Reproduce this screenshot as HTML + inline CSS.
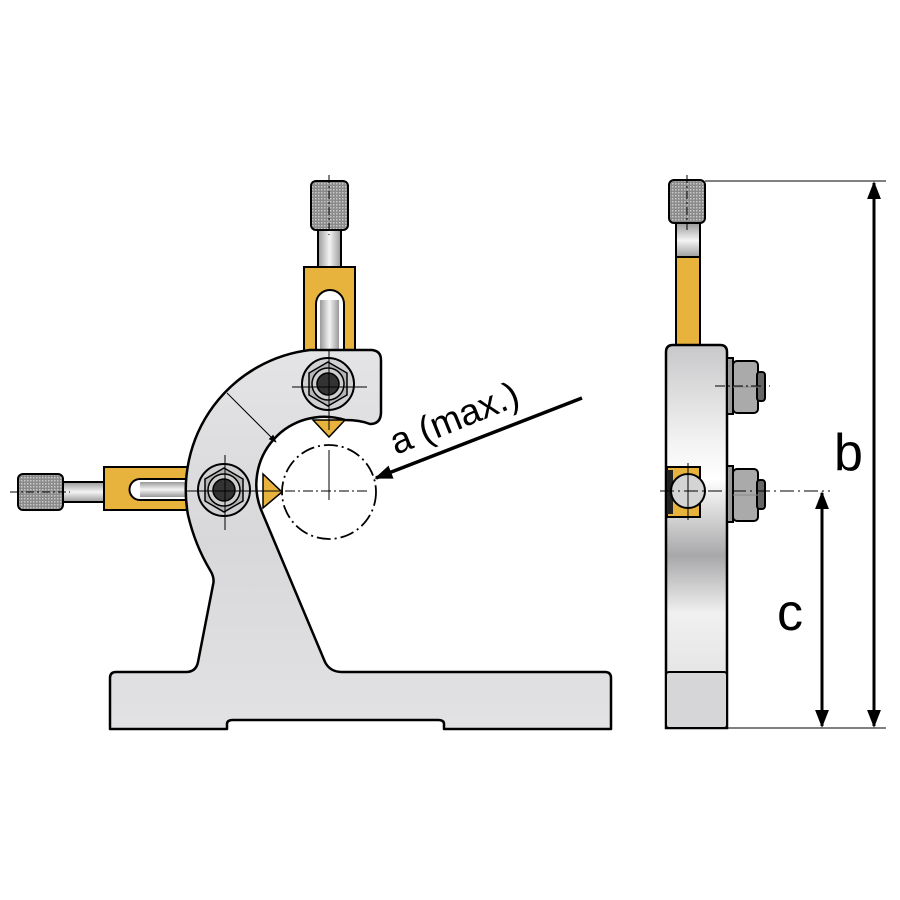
<!DOCTYPE html>
<html><head><meta charset="utf-8"><style>
html,body{margin:0;padding:0;background:#fff;}
svg{display:block;}
text{font-family:"Liberation Sans","DejaVu Sans",sans-serif;}
</style></head><body>
<svg width="900" height="900" viewBox="0 0 900 900" xmlns="http://www.w3.org/2000/svg">
<defs>
<linearGradient id="metal" x1="0" y1="0" x2="0" y2="1">
<stop offset="0" stop-color="#e4e4e6"/><stop offset="0.5" stop-color="#d8d8da"/><stop offset="1" stop-color="#e2e2e4"/></linearGradient>
<linearGradient id="side" x1="0" y1="0" x2="0" y2="1">
<stop offset="0" stop-color="#c8c8ca"/><stop offset="0.25" stop-color="#f2f2f2"/><stop offset="0.35" stop-color="#ffffff"/><stop offset="0.55" stop-color="#a8a8aa"/><stop offset="0.7" stop-color="#f0f0f0"/><stop offset="1" stop-color="#dcdcdc"/></linearGradient>
<linearGradient id="rodv" x1="0" y1="0" x2="1" y2="0">
<stop offset="0" stop-color="#999"/><stop offset="0.5" stop-color="#f4f4f4"/><stop offset="1" stop-color="#999"/></linearGradient>
<linearGradient id="rodh" x1="0" y1="0" x2="0" y2="1">
<stop offset="0" stop-color="#999"/><stop offset="0.5" stop-color="#f4f4f4"/><stop offset="1" stop-color="#999"/></linearGradient>
<pattern id="knurl" width="3" height="3" patternUnits="userSpaceOnUse">
<rect width="3" height="3" fill="#8a8a8a"/><rect width="1.5" height="1.5" fill="#c8c8c8"/></pattern>
<marker id="ah" viewBox="0 0 10 10" refX="9" refY="5" markerWidth="8" markerHeight="8" orient="auto-start-reverse" markerUnits="userSpaceOnUse">
<path d="M0,1 L10,5 L0,9 Z" fill="#000"/></marker>
<marker id="ah2" viewBox="0 0 10 10" refX="9" refY="5" markerWidth="18" markerHeight="14" orient="auto-start-reverse" markerUnits="userSpaceOnUse" preserveAspectRatio="none">
<path d="M0,0 L10,5 L0,10 Z" fill="#000"/></marker>
</defs>

<!-- left slider -->
<rect x="18" y="474" width="45" height="36" rx="5" fill="url(#knurl)" stroke="#000" stroke-width="2"/>
<rect x="63" y="482" width="42" height="20" fill="url(#rodh)" stroke="#000" stroke-width="2"/>
<rect x="104" y="467" width="86" height="43" fill="#e8b33c" stroke="#000" stroke-width="2"/>
<path d="M190,479 L140,479 A10.5,10.5 0 0 0 140,500 L190,500 Z" fill="#fff" stroke="#000" stroke-width="2"/>
<rect x="140" y="482" width="50" height="15" fill="url(#rodh)"/>

<!-- top slider -->
<rect x="311" y="181" width="37" height="49" rx="5" fill="url(#knurl)" stroke="#000" stroke-width="2"/>
<rect x="318" y="230" width="23" height="38" fill="url(#rodv)" stroke="#000" stroke-width="2"/>
<rect x="304" y="267" width="51" height="88" fill="#e8b33c" stroke="#000" stroke-width="2"/>
<path d="M316,355 L316,304 A14,14 0 0 1 344,304 L344,355 Z" fill="#fff" stroke="#000" stroke-width="2"/>
<rect x="320" y="300" width="19" height="55" fill="url(#rodv)"/>

<!-- body: base + upright + C arm -->
<path d="M110,678 Q110,672 116,672 L186,672 Q196,672 198,662 L213,585 Q215,578 210,570 Q195,545 188,515 A141,141 0 0 1 310,350 L372,350 Q381,351 381,360 L381,412 Q381,424 370,424 Q360,420 345,420 A68,68 0 0 0 262,512 L325,662 Q330,672 342,672 L605,672 Q611,672 611,678 L611,729 L444,729 L444,724 Q444,720 438,720 L233,720 Q227,720 227,724 L227,729 L110,729 Z" fill="url(#metal)" stroke="#000" stroke-width="2.5" stroke-linejoin="round"/>

<!-- jaws -->
<path d="M313,420 L345,420 L329,437 Z" fill="#e8b33c" stroke="#000" stroke-width="1.5"/>
<path d="M263,474 L263,508 L282,492 Z" fill="#e8b33c" stroke="#000" stroke-width="1.5"/>

<!-- nuts -->
<g>
<circle cx="328" cy="384" r="26" fill="#d0d0d2" stroke="#000" stroke-width="2"/>
<polygon points="328,362 347,373 347,395 328,406 309,395 309,373" fill="#b5b5b8" stroke="#000" stroke-width="1.5"/>
<circle cx="328" cy="384" r="16" fill="#ccc" stroke="#000" stroke-width="1.5"/>
<circle cx="328" cy="384" r="11" fill="#333" stroke="#000" stroke-width="1.5"/>
</g>
<g>
<circle cx="224" cy="490" r="26" fill="#d0d0d2" stroke="#000" stroke-width="2"/>
<polygon points="224,468 243,479 243,501 224,512 205,501 205,479" fill="#b5b5b8" stroke="#000" stroke-width="1.5"/>
<circle cx="224" cy="490" r="16" fill="#ccc" stroke="#000" stroke-width="1.5"/>
<circle cx="224" cy="490" r="11" fill="#333" stroke="#000" stroke-width="1.5"/>
</g>

<!-- centre lines -->
<g stroke="#000" stroke-width="1">
<line x1="329" y1="175" x2="329" y2="235" stroke-dasharray="8,3,2,3"/>
<line x1="292" y1="387" x2="367" y2="387"/><line x1="329" y1="350" x2="329" y2="430"/>
<line x1="185" y1="491" x2="282" y2="491"/><line x1="225" y1="455" x2="225" y2="530"/>
<line x1="10" y1="492" x2="70" y2="492" stroke-dasharray="8,3,2,3"/>
<line x1="285" y1="491" x2="370" y2="491" stroke-dasharray="10,3,2,3"/>
<line x1="329" y1="450" x2="329" y2="500"/>
<line x1="227" y1="393" x2="276" y2="442" marker-end="url(#ah)"/>
</g>
<circle cx="329" cy="492" r="47" fill="none" stroke="#000" stroke-width="1.8" stroke-dasharray="14,4,2,4"/>

<!-- a arrow and label -->
<line x1="582" y1="398" x2="376" y2="478" stroke="#000" stroke-width="3.5" marker-end="url(#ah2)"/>
<text x="396" y="455" font-size="37" transform="rotate(-22 396 455)">a (max.)</text>

<!-- side view -->
<rect x="669" y="180" width="36" height="43" rx="5" fill="url(#knurl)" stroke="#000" stroke-width="2"/>
<rect x="676" y="223" width="24" height="35" fill="url(#rodh)" stroke="#000" stroke-width="2"/>
<rect x="676" y="257" width="24" height="90" fill="#e8b33c" stroke="#000" stroke-width="2"/>
<path d="M666,352 Q666,345 673,345 L720,345 Q727,345 727,352 L727,728 L666,728 Z" fill="url(#side)" stroke="#000" stroke-width="2.5"/>
<rect x="666" y="672" width="61" height="56" rx="3" fill="#d6d6d8" stroke="#000" stroke-width="2"/>
<rect x="667" y="467" width="33" height="50" fill="#e8b33c" stroke="#000" stroke-width="2"/>
<rect x="667" y="470" width="6" height="44" fill="#222"/>
<circle cx="688" cy="491" r="17" fill="#d4d4d4" stroke="#000" stroke-width="2"/>
<g stroke="#000" stroke-width="2">
<rect x="727" y="358" width="6" height="56" fill="#999"/>
<rect x="733" y="361" width="25" height="52" rx="4" fill="#aaa"/>
<rect x="757" y="372" width="8" height="29" rx="3" fill="#666"/>
<rect x="727" y="466" width="6" height="56" fill="#999"/>
<rect x="733" y="469" width="25" height="52" rx="4" fill="#aaa"/>
<rect x="757" y="480" width="8" height="29" rx="3" fill="#666"/>
</g>
<g stroke="#000" stroke-width="1">
<line x1="733" y1="387" x2="758" y2="387" stroke="#888"/>
<line x1="733" y1="495" x2="758" y2="495" stroke="#888"/>
<line x1="687" y1="175" x2="687" y2="230" stroke-dasharray="8,3,2,3"/>
<line x1="715" y1="386" x2="770" y2="386" stroke-dasharray="10,3,2,3"/>
<line x1="688" y1="463" x2="688" y2="520"/>
<line x1="660" y1="491" x2="830" y2="491" stroke-dasharray="14,4,2,4"/>
<line x1="705" y1="181" x2="886" y2="181"/>
<line x1="727" y1="728" x2="886" y2="728"/>
</g>
<line x1="874" y1="183" x2="874" y2="726" stroke="#000" stroke-width="3" marker-start="url(#ah2)" marker-end="url(#ah2)"/>
<line x1="822" y1="493" x2="822" y2="726" stroke="#000" stroke-width="3" marker-start="url(#ah2)" marker-end="url(#ah2)"/>
<text x="834" y="470" font-size="52">b</text>
<text x="777" y="630" font-size="52">c</text>
</svg>
</body></html>
